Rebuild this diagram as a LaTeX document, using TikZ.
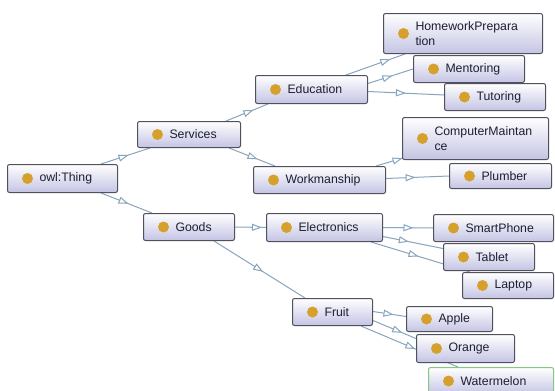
\documentclass[tikz,border=0pt]{standalone}
\usepackage{fontspec}
\setmainfont{Liberation Sans}
\usetikzlibrary{arrows.meta,decorations.markings}
\definecolor{edgec}{RGB}{135,165,190}
\definecolor{boxc}{RGB}{80,80,95}
\definecolor{boxbot}{RGB}{196,196,228}
\definecolor{dotc}{RGB}{214,160,45}
\definecolor{txtc}{RGB}{30,30,50}
\definecolor{greenc}{RGB}{130,200,130}
\pgfdeclarelayer{bg}
\pgfsetlayers{bg,main}
\newcommand\cls[7][]{%
  \node[clsbox,#1,anchor=north west,minimum width=#5pt,minimum height=#6pt,text width=#5pt-64pt] (#2) at (#3,#4) {#7};}
\begin{document}
\begin{tikzpicture}[x=1pt,y=-1pt,
  clsbox/.style={draw=boxc, line width=1pt, rounded corners=2pt,
    top color=white, bottom color=boxbot,
    font=\fontsize{12.3}{15}\selectfont, text=txtc, align=left,
    inner xsep=32pt, inner ysep=0pt,
    path picture={\fill[dotc] ([xshift=20pt]path picture bounding box.west) circle (5.5pt);}},
  isa/.style={draw=edgec, line width=1pt, postaction={decorate},
    decoration={markings, mark=at position #1 with {\arrow[edgec,line width=1pt]{Triangle[length=10pt,width=7pt,fill=white]}}}}]
\useasboundingbox (0,0) rectangle (555,391);
\clip (0,0) rectangle (555,391);
\cls{thing}{7}{164}{110}{28}{owl:Thing}
\cls{services}{137}{121}{103}{26}{Services}
\cls{education}{255}{75}{112}{28}{Education}
\cls{workman}{253}{166}{132}{27}{Workmanship}
\cls{hp}{383}{13}{159}{40}{HomeworkPrepara\\tion}
\cls{mentor}{413}{55}{111}{27}{Mentoring}
\cls{tutor}{444}{83}{101}{27}{Tutoring}
\cls{cm}{402}{117}{146}{42}{ComputerMaintan\\ce}
\cls{plumber}{449}{163}{102}{25}{Plumber}
\cls{goods}{143}{213}{91}{27}{Goods}
\cls{electronics}{266}{213}{116}{28}{Electronics}
\cls{smart}{433}{214}{120}{27}{SmartPhone}
\cls{tablet}{443}{243}{91}{27}{Tablet}
\cls{laptop}{462}{272}{91}{26}{Laptop}
\cls{fruit}{292}{298}{80}{27}{Fruit}
\cls{apple}{406}{306}{86}{25}{Apple}
\cls{orange}{416}{334}{98}{28}{Orange}
\cls[draw=greenc]{water}{428}{367}{125}{27}{Watermelon}
\begin{pgfonlayer}{bg}
\fill[white] (0,0) rectangle (555,391);
\draw[isa=0.56] ([xshift=-17pt]thing.north east) -- ([xshift=13pt]services.south west);
\draw[isa=0.54] ([xshift=-17pt]thing.south east) -- ([xshift=9pt]goods.north west);
\draw[isa=0.65] ([xshift=-15pt]services.north east) -- ([xshift=13pt]education.south west);
\draw[isa=0.62] ([xshift=-12pt]services.south east) -- ([xshift=22pt]workman.north west);
\draw[isa=0.75] ([xshift=-22pt]education.north east) -- ([xshift=22pt]hp.south west);
\draw[isa=0.54] ([yshift=6pt]education.east) -- (mentor.west);
\draw[isa=0.5] ([yshift=-2pt]education.east) -- ([yshift=2pt]tutor.west);
\draw[isa=0.78] ([xshift=-10pt]workman.north east) -- ([xshift=8pt,yshift=4pt]cm.south west);
\draw[isa=0.47] ([yshift=1.5pt]workman.east) -- (plumber.west);
\draw[isa=0.87] (goods.east) -- (electronics.west);
\draw[isa=0.54] ([xshift=-21pt]goods.south east) -- ([xshift=13pt]fruit.north west);
\draw[isa=0.61] (electronics.east) -- (smart.west);
\draw[isa=0.43] ([yshift=-9pt]electronics.east) -- ([yshift=8.5pt]tablet.west);
\draw[isa=0.48] ([xshift=-12pt]electronics.south east) -- ([xshift=8pt]laptop.north west);
\draw[isa=0.62] ([yshift=0.5pt]fruit.east) -- ([yshift=2.5pt]apple.west);
\draw[isa=0.68] ([yshift=-8.5pt]fruit.east) -- ([yshift=10pt]orange.west);
\draw[isa=0.56] ([xshift=-12pt]fruit.south east) -- ([xshift=30pt]water.north west);
\end{pgfonlayer}
\end{tikzpicture}
\end{document}
